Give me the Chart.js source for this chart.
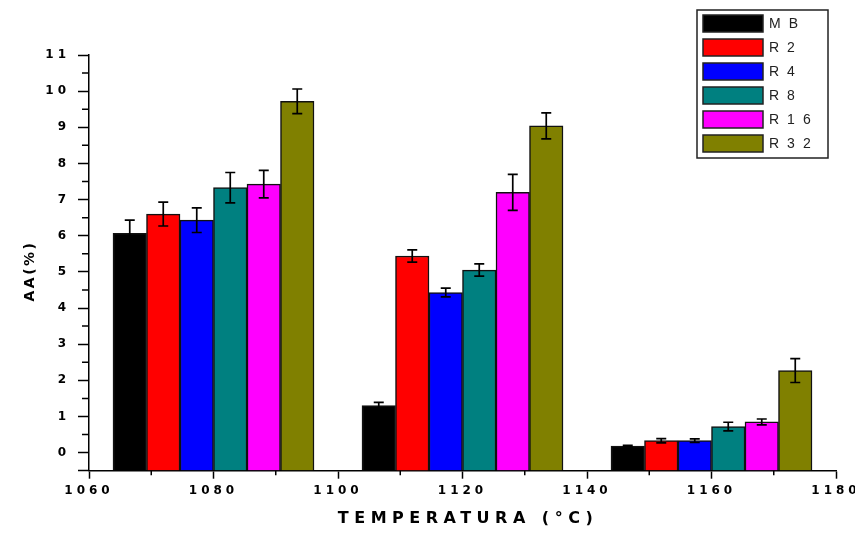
<!DOCTYPE html>
<html>
<head>
<meta charset="utf-8">
<script src="https://cdn.jsdelivr.net/npm/chart.js@4.4.1/dist/chart.umd.min.js"></script>
<style>
  html, body { margin: 0; padding: 0; background: #fff; }
  canvas { display: block; }
</style>
</head>
<body>
<canvas id="chart-aa" width="855" height="534"></canvas>
<script>
const temperatures = [1080, 1120, 1160];
const seriesLabels = ["MB", "R2", "R4", "R8", "R16", "R32"];
const seriesColors = ["#000000", "#ff0000", "#0000ff", "#008080", "#ff00ff", "#808000"];

const mbValues = [6.07, 1.30, 0.18];
const r2Values = [6.60, 5.44, 0.33];
const r4Values = [6.43, 4.43, 0.33];
const r8Values = [7.33, 5.05, 0.72];
const r16Values = [7.43, 7.20, 0.85];
const r32Values = [9.72, 9.04, 2.27];

const mbErrors = [0.36, 0.09, 0.02];
const r2Errors = [0.33, 0.17, 0.06];
const r4Errors = [0.34, 0.12, 0.05];
const r8Errors = [0.42, 0.17, 0.12];
const r16Errors = [0.38, 0.50, 0.08];
const r32Errors = [0.34, 0.36, 0.33];

const seriesValues = [mbValues, r2Values, r4Values, r8Values, r16Values, r32Values];
const seriesErrors = [mbErrors, r2Errors, r4Errors, r8Errors, r16Errors, r32Errors];

const xTitle = "TEMPERATURA (°C)";
const yTitle = "AA(%)";

// ticks get wide letter spacing like the original export
const spacing = {
  id: "spacing",
  beforeDraw(chart) {
    chart.ctx.letterSpacing = "4px";
  }
};

const minorTicks = {
  id: "minorTicks",
  afterDraw(chart) {
    const { ctx, scales: { x, y } } = chart;
    ctx.save();
    ctx.strokeStyle = "#000";
    ctx.lineWidth = 1.5;
    ctx.beginPath();
    for (let v = x.min + 10; v < x.max; v += 20) {
      const px = x.getPixelForValue(v);
      ctx.moveTo(px, y.bottom);
      ctx.lineTo(px, y.bottom + 4.5);
    }
    for (let v = 0.5; v < y.max; v += 1) {
      const py = y.getPixelForValue(v);
      ctx.moveTo(x.left, py);
      ctx.lineTo(x.left - 7, py);
    }
    ctx.stroke();
    ctx.restore();
  }
};

const errorBars = {
  id: "errorBars",
  afterDatasetsDraw(chart) {
    const { ctx, scales: { y } } = chart;
    ctx.save();
    ctx.strokeStyle = "#000";
    ctx.lineWidth = 1.7;
    chart.data.datasets.forEach((ds, i) => {
      const meta = chart.getDatasetMeta(i);
      meta.data.forEach((bar, j) => {
        const err = seriesErrors[i][j];
        const v = seriesValues[i][j];
        const top = y.getPixelForValue(v + err);
        const bottom = y.getPixelForValue(v - err);
        ctx.beginPath();
        ctx.moveTo(bar.x, top);
        ctx.lineTo(bar.x, bottom);
        ctx.moveTo(bar.x - 5, top);
        ctx.lineTo(bar.x + 5, top);
        ctx.moveTo(bar.x - 5, bottom);
        ctx.lineTo(bar.x + 5, bottom);
        ctx.stroke();
      });
    });
    ctx.restore();
  }
};

const boxLegend = {
  id: "boxLegend",
  afterDraw(chart) {
    const { ctx } = chart;
    ctx.save();
    ctx.lineWidth = 1.5;
    ctx.strokeStyle = "#222";
    ctx.strokeRect(697, 10, 131, 148);
    ctx.font = "14px 'Liberation Sans', Arial, sans-serif";
    ctx.letterSpacing = "8px";
    ctx.textBaseline = "middle";
    ctx.textAlign = "left";
    chart.data.datasets.forEach((ds, i) => {
      const top = 15 + i * 24;
      ctx.fillStyle = ds.backgroundColor;
      ctx.fillRect(703, top, 60, 17);
      ctx.strokeRect(703, top, 60, 17);
      ctx.fillStyle = "#222";
      ctx.fillText(ds.label, 769, top + 9);
    });
    ctx.restore();
  }
};

const axisTitles = {
  id: "axisTitles",
  afterDraw(chart) {
    const { ctx } = chart;
    ctx.save();
    ctx.fillStyle = "#000";
    ctx.textAlign = "center";
    ctx.textBaseline = "middle";
    ctx.font = "bold 16px 'DejaVu Sans', sans-serif";
    ctx.letterSpacing = "5.5px";
    ctx.fillText(xTitle, 468, 519);
    ctx.translate(30, 272);
    ctx.rotate(-Math.PI / 2);
    ctx.font = "bold 14px 'DejaVu Sans', sans-serif";
    ctx.letterSpacing = "2.5px";
    ctx.fillText(yTitle, 1, 0);
    ctx.restore();
  }
};

const tickFont = { family: "'DejaVu Sans', sans-serif", weight: "bold", size: 12 };

const datasets = seriesLabels.map((label, i) => ({
  label,
  data: temperatures.map((t, j) => ({ x: t, y: seriesValues[i][j] })),
  backgroundColor: seriesColors[i],
  borderColor: "#111",
  borderWidth: 1.5,
  borderSkipped: "bottom",
  base: -0.5,
  barThickness: 33.5
}));

new Chart(document.getElementById("chart-aa"), {
  type: "bar",
  data: { datasets },
  options: {
    responsive: false,
    animation: false,
    layout: { padding: { top: 55, right: 19, left: 0, bottom: 0 } },
    plugins: { legend: { display: false }, tooltip: { enabled: false } },
    scales: {
      x: {
        type: "linear",
        min: 1060,
        max: 1180,
        offset: false,
        grid: { offset: false, drawOnChartArea: false, tickLength: 8, tickColor: "#000", tickWidth: 1.5 },
        border: { color: "#000", width: 1.5 },
        ticks: { stepSize: 20, padding: 5, color: "#000", font: tickFont, maxRotation: 0, callback: (v) => String(v) },
        afterFit(scale) {
          scale.height = 63.3;
          scale.paddingLeft = 0;
          scale.paddingRight = 0;
        }
      },
      y: {
        min: -0.5,
        max: 11,
        grid: { drawOnChartArea: false, tickLength: 11, tickColor: "#000", tickWidth: 1.5 },
        border: { color: "#000", width: 1.5 },
        ticks: {
          stepSize: 1,
          padding: 8,
          color: "#000",
          font: tickFont,
          callback: (v) => (Number.isInteger(v) ? String(v) : "")
        },
        afterFit(scale) {
          scale.width = 89;
          scale.paddingTop = 0;
          scale.paddingBottom = 0;
        }
      }
    }
  },
  plugins: [spacing, minorTicks, errorBars, boxLegend, axisTitles]
});
</script>
</body>
</html>
